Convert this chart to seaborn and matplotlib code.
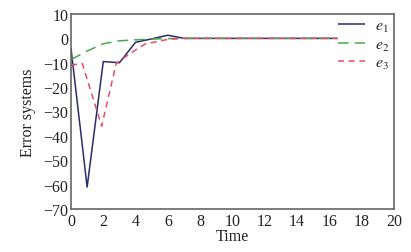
import matplotlib
matplotlib.use("Agg")
import matplotlib.pyplot as plt
import seaborn as sns
import pandas as pd

t1 = [0, 1, 2, 3, 4, 5, 6, 7, 8, 9, 10, 11, 12, 13, 14, 15, 16, 16.5]
e1 = [-4, -61, -9.5, -10, -1.6, -0.2, 1.3, 0, 0, 0, 0, 0, 0, 0, 0, 0, 0, 0]
t2 = [0, 1, 2, 3, 4, 5, 6, 7, 8, 9, 10, 11, 12, 13, 14, 15, 16, 16.5]
e2 = [-8.7, -5.2, -2.2, -1.0, -0.6, -0.3, -0.1, 0, 0, 0, 0, 0, 0, 0, 0, 0, 0, 0]
t3 = [0, 0.7, 1.9, 2.8, 3.7, 4.6, 6, 7, 8, 9, 10, 11, 12, 13, 14, 15, 16, 16.5]
e3 = [-11, -10.3, -36, -10.3, -6, -2.3, -0.4, 0, 0, 0, 0, 0, 0, 0, 0, 0, 0, 0]

labels = ["$e_1$", "$e_2$", "$e_3$"]
xticks = [0, 2, 4, 6, 8, 10, 12, 14, 16, 18, 20]
yticks = [10, 0, -10, -20, -30, -40, -50, -60, -70]

df = pd.concat([
    pd.DataFrame({"Time": t1, "val": e1, "series": labels[0]}),
    pd.DataFrame({"Time": t2, "val": e2, "series": labels[1]}),
    pd.DataFrame({"Time": t3, "val": e3, "series": labels[2]}),
])

sns.set_style("white")
plt.rcParams["font.family"] = ["Liberation Serif", "DejaVu Serif"]
plt.rcParams["mathtext.fontset"] = "stix"

fig = plt.figure(figsize=(4.11, 2.53), dpi=100)
ax = fig.add_axes([0.1727, 0.170, 0.7859, 0.7707])

colors = ["#2b2b6b", "#4aa84a", "#e0506a"]
styles = [(0, ()), (0, (7, 4)), (0, (4, 3))]
for lab, c, ls in zip(labels, colors, styles):
    sub = df[df["series"] == lab]
    sns.lineplot(data=sub, x="Time", y="val", ax=ax, color=c, lw=1.1,
                 linestyle=ls, label=lab, sort=False)

ax.set_xlim(0, 20)
ax.set_ylim(-70, 10)
ax.set_xticks(xticks)
ax.set_yticks(yticks)
ax.set_xticklabels([str(v) for v in xticks])
ax.set_yticklabels([("\u2212" + str(-v)) if v < 0 else str(v) for v in yticks])
ax.tick_params(direction="in", length=3, width=0.8, colors="#333333",
               labelsize=11.5, labelcolor="#222222", pad=2)
ax.tick_params(axis="x", pad=3)
for s in ax.spines.values():
    s.set_color("#666666")
    s.set_linewidth(1.2)
ax.set_xlabel("Time", fontsize=11.5, labelpad=-1, color="#222222")
ax.set_ylabel("Error systems", fontsize=11.5, labelpad=5, color="#222222")

leg = ax.legend(loc="upper right", bbox_to_anchor=(1.01, 1.02), frameon=False,
                fontsize=11.5, handlelength=1.7, handletextpad=0.6,
                labelspacing=0.15, borderaxespad=0.1)

fig.savefig("out.png", dpi=100)
